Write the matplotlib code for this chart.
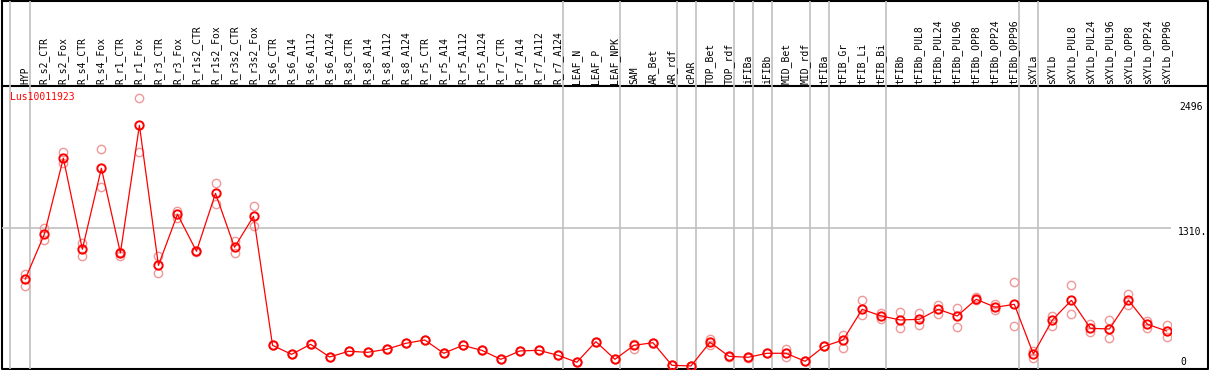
import numpy as np
import matplotlib
matplotlib.use('Agg')
import matplotlib.pyplot as plt

# sample names, left to right
samples = ['HYP', 'R_s2_CTR', 'R_s2_Fox', 'R_s4_CTR', 'R_s4_Fox', 'R_r1_CTR', 'R_r1_Fox',
           'R_r3_CTR', 'R_r3_Fox', 'R_r1s2_CTR', 'R_r1s2_Fox', 'R_r3s2_CTR', 'R_r3s2_Fox',
           'R_s6_CTR', 'R_s6_A14', 'R_s6_A112', 'R_s6_A124', 'R_s8_CTR', 'R_s8_A14',
           'R_s8_A112', 'R_s8_A124', 'R_r5_CTR', 'R_r5_A14', 'R_r5_A112', 'R_r5_A124',
           'R_r7_CTR', 'R_r7_A14', 'R_r7_A112', 'R_r7_A124', 'LEAF_N', 'LEAF_P', 'LEAF_NPK',
           'SAM', 'AR_Bet', 'AR_rdf', 'cPAR', 'TOP_Bet', 'TOP_rdf', 'iFIBa', 'iFIBb',
           'MID_Bet', 'MID_rdf', 'tFIBa', 'tFIB_Gr', 'tFIB_Li', 'tFIB_Bi', 'tFIBb',
           'tFIBb_PUL8', 'tFIBb_PUL24', 'tFIBb_PUL96', 'tFIBb_OPP8', 'tFIBb_OPP24',
           'tFIBb_OPP96', 'sXYLa', 'sXYLb', 'sXYLb_PUL8', 'sXYLb_PUL24', 'sXYLb_PUL96',
           'sXYLb_OPP8', 'sXYLb_OPP24', 'sXYLb_OPP96']

# mean expression per sample
means = [830, 1253, 1972, 1111, 1877, 1076, 2284, 959, 1442, 1092, 1640, 1130, 1423,
         202, 117, 212, 92, 146, 136, 165, 221, 253, 127, 202, 155, 70, 149, 155, 108,
         42, 237, 70, 202, 227, 13, 7, 231, 98, 89, 127, 127, 51, 193, 253, 543, 480,
         442, 448, 543, 480, 638, 562, 590, 120, 442, 628, 363, 357, 628, 401, 338]

# replicate values (pale circles)
rep_a = [874, 1315, 2031, 1167, 2057, 1085, 2539, 1044, 1473, 1095, 1738, 1192, 1520,
         202, 117, 212, 92, 146, 136, 165, 221, 253, 127, 202, 155, 70, 149, 155, 108,
         42, 237, 70, 215, 227, 13, 7, 259, 105, 95, 127, 165, 51, 193, 300, 628, 505,
         514, 505, 584, 559, 656, 596, 798, 151, 483, 770, 401, 442, 688, 435, 394]
rep_b = [766, 1196, 1924, 1050, 1697, 1047, 2028, 884, 1410, 1088, 1536, 1073, 1328,
         202, 117, 212, 92, 146, 136, 165, 221, 253, 127, 202, 155, 70, 149, 155, 108,
         42, 237, 70, 170, 227, 13, 7, 205, 92, 85, 127, 89, 51, 193, 174, 486, 448,
         363, 394, 496, 379, 630, 536, 382, 85, 388, 496, 325, 269, 581, 363, 278]

# groups end after these sample indices
group_ends = [0, 28, 31, 34, 35, 37, 38, 39, 41, 42, 45, 52, 53, 60]

gene = 'Lus10011923'
ymax_label = '2496'
ymid_label = '1310.'
ymid = 1310

W, H = 1209, 370
fig = plt.figure(figsize=(W / 100, H / 100), dpi=100)

# pixel helpers
x_pad0, x_step = 25.3, 19.02
y_zero, y_scale = 366.7, 0.1057
plot_l, plot_r, plot_t, plot_b = 1.5, 1170.5, 86, 369


def ix(px):
    return (px - x_pad0) / x_step


def vy(py):
    return (y_zero - py) / y_scale


xlim = (ix(plot_l), ix(plot_r))

# background axes for outer frame
bg = fig.add_axes([0, 0, 1, 1])
bg.set_xlim(0, W)
bg.set_ylim(H, 0)
bg.axis('off')
bg.plot([1.5, 1207.5, 1207.5, 1.5, 1.5], [0.5, 0.5, 369, 369, 0.5], color='black', lw=1.5)
bg.plot([1.5, 1207.5], [plot_t, plot_t], color='black', lw=1.5)

# header axes with labels
hd = fig.add_axes([plot_l / W, (H - plot_t) / H, (plot_r - plot_l) / W, (plot_t - 0.5) / H])
hd.set_xlim(*xlim)
hd.set_ylim(0, 1)
hd.axis('off')
for i, s in enumerate(samples):
    hd.text(i, 0.025, s, rotation=90, ha='center', va='bottom', fontsize=7,
            family='DejaVu Sans Mono', color='black')

# main plot axes
ax = fig.add_axes([plot_l / W, (H - plot_b) / H, (plot_r - plot_l) / W, (plot_b - plot_t) / H])
ax.set_xlim(*xlim)
ax.set_ylim(vy(plot_b), vy(plot_t))
ax.axis('off')

ax.axhline(ymid, color='#c0c0c0', lw=1.2, zorder=1)
seps = [-0.8] + [g + 0.27 for g in group_ends]
for s in seps:
    ax.axvline(s, color='#c0c0c0', lw=1.2, zorder=1)
    hd.axvline(s, color='#c0c0c0', lw=1.2, zorder=1)

x = np.arange(len(samples))
ax.plot(x, rep_a, 'o', ms=6, mfc='none', mec='#f09898', mew=1.0, zorder=2)
ax.plot(x, rep_b, 'o', ms=6, mfc='none', mec='#f09898', mew=1.0, zorder=2)
ax.plot(x, means, '-', color='red', lw=0.9, zorder=3)
ax.plot(x, means, 'o', ms=6, mfc='none', mec='red', mew=1.4, zorder=4)

ax.text(ix(10), vy(97), gene, color='red', fontsize=7, family='DejaVu Sans Mono',
        ha='left', va='center')

# y labels on right
fig.text(1179 / W, 1 - 107 / H, ymax_label, fontsize=7, family='DejaVu Sans Mono', va='center')
fig.text(1178 / W, 1 - 232 / H, ymid_label, fontsize=7, family='DejaVu Sans Mono', va='center')
fig.text(1180 / W, 1 - 362 / H, '0', fontsize=7, family='DejaVu Sans Mono', va='center')

fig.savefig('out.png', dpi=100)
